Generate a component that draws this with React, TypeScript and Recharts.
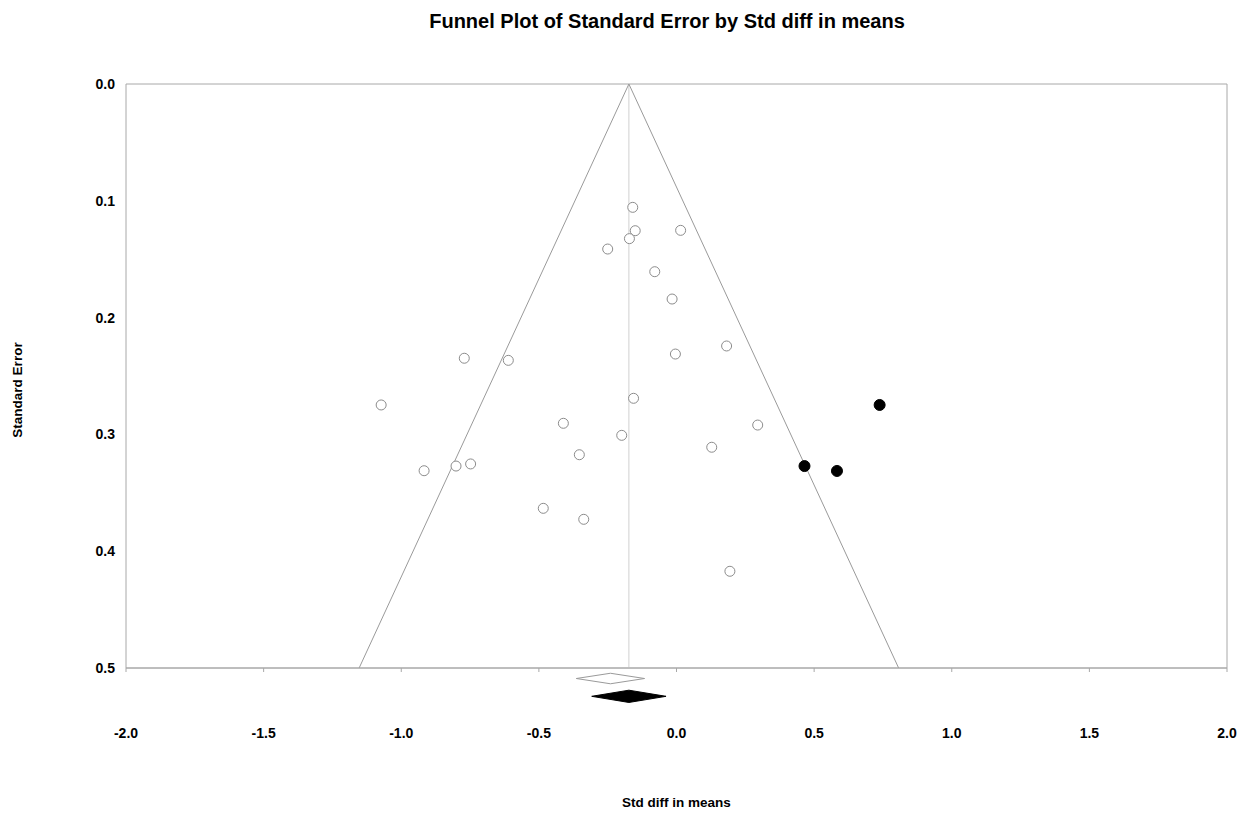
import React from 'react';
import { ScatterChart, Scatter, XAxis, YAxis, ReferenceLine, ReferenceArea, Label } from 'recharts';

// Studies (open circles)
const studyEffect = [
  -0.159, -0.150, 0.015, -0.171, -0.250, -0.079, -0.016, 0.182, -0.004, -0.771,
  -0.611, -1.073, -0.156, -0.411, 0.295, -0.199, 0.128, -0.353, -0.801, -0.748,
  -0.917, -0.484, -0.337, 0.194,
];
const studySE = [
  0.1056, 0.1256, 0.1253, 0.1324, 0.1413, 0.1607, 0.1841, 0.2243, 0.2312, 0.2348,
  0.2366, 0.2748, 0.2691, 0.2905, 0.2920, 0.3008, 0.3110, 0.3174, 0.3271, 0.3253,
  0.3311, 0.3633, 0.3727, 0.4172,
];

// Imputed studies (filled circles)
const imputedEffect = [0.738, 0.465, 0.583];
const imputedSE = [0.2748, 0.3271, 0.3313];

// Pooled estimates (diamonds)
const pooledEffect = -0.173;
const observedDiamond = { lo: -0.364, hi: -0.116, top: 0.5045, bottom: 0.5135 };
const adjustedDiamond = { lo: -0.308, hi: -0.038, top: 0.519, bottom: 0.5295 };

const xTicks = [-2.0, -1.5, -1.0, -0.5, 0.0, 0.5, 1.0, 1.5, 2.0];
const yTicks = [0.0, 0.1, 0.2, 0.3, 0.4, 0.5];

const studies = studyEffect.map((x, i) => ({ x, y: studySE[i] }));
const imputed = imputedEffect.map((x, i) => ({ x, y: imputedSE[i] }));

const FONT = '"Liberation Sans", Arial, sans-serif';

const openCircle = (p: any) => (
  <circle cx={p.cx} cy={p.cy} r={5} fill="#ffffff" stroke="#8c8c8c" strokeWidth={1} />
);
const filledCircle = (p: any) => (
  <circle cx={p.cx} cy={p.cy} r={5.5} fill="#000000" stroke="#000000" strokeWidth={1} />
);

const diamond = (fill: string, stroke: string) => (p: any) => {
  const x = Math.min(p.x, p.x + p.width);
  const y = Math.min(p.y, p.y + p.height);
  const w = Math.abs(p.width);
  const h = Math.abs(p.height);
  const pts = `${x},${y + h / 2} ${x + w / 2},${y} ${x + w},${y + h / 2} ${x + w / 2},${y + h}`;
  return <polygon points={pts} fill={fill} stroke={stroke} strokeWidth={1} />;
};

export default function App() {
  return (
    <div style={{ position: 'relative', width: 1240, height: 810, fontFamily: FONT }}>
      <div
        style={{
          position: 'absolute', top: 2, left: 39, width: 1240, textAlign: 'center',
          fontWeight: 'bold', fontSize: 20, color: '#000', whiteSpace: 'nowrap',
        }}
      >
        Funnel Plot of Standard Error by Std diff in means
      </div>
      <ScatterChart width={1240} height={810} margin={{ top: 76, right: 21, left: 0, bottom: 65 }}>
        <XAxis
          type="number"
          dataKey="x"
          domain={[-2, 2]}
          ticks={xTicks}
          tickFormatter={(v: number) => v.toFixed(1)}
          tick={{ fill: '#000', fontSize: 14, fontWeight: 'bold', fontFamily: FONT }}
          tickSize={4}
          tickMargin={56}
          stroke="#a8a8a8"
          height={85}
        >
          <Label
            content={(props: any) => {
              const vb = props.viewBox;
              return (
                <text x={vb.x + vb.width / 2} y={vb.y + 139} textAnchor="middle"
                  fontSize={13.5} fontWeight="bold" fontFamily={FONT} fill="#000">
                  Std diff in means
                </text>
              );
            }}
          />
        </XAxis>
        <YAxis
          type="number"
          dataKey="y"
          domain={[0, 0.5]}
          reversed
          ticks={yTicks}
          tickFormatter={(v: number) => v.toFixed(1)}
          tick={{ fill: '#000', fontSize: 14, fontWeight: 'bold', fontFamily: FONT }}
          tickLine={false}
          axisLine={false}
          tickSize={0}
          tickMargin={11}
          width={118}
        >
          <Label
            content={(props: any) => {
              const vb = props.viewBox;
              const cx = 14;
              const cy = vb.y + vb.height / 2 + 14;
              return (
                <text x={cx} y={cy} textAnchor="middle" transform={`rotate(-90 ${cx} ${cy})`}
                  fontSize={13.5} fontWeight="bold" fontFamily={FONT} fill="#000">
                  Standard Error
                </text>
              );
            }}
          />
        </YAxis>

        {/* plot frame */}
        <ReferenceArea x1={-2} x2={2} y1={0} y2={0.5} fill="none" stroke="#a8a8a8" strokeWidth={1} />

        {/* pooled estimate line */}
        <ReferenceLine x={pooledEffect} stroke="#d0d0d0" strokeWidth={1} />

        {/* 95% pseudo-confidence funnel */}
        <ReferenceLine
          segment={[{ x: pooledEffect, y: 0 }, { x: pooledEffect - 1.96 * 0.5, y: 0.5 }]}
          stroke="#9a9a9a" strokeWidth={1}
        />
        <ReferenceLine
          segment={[{ x: pooledEffect, y: 0 }, { x: pooledEffect + 1.96 * 0.5, y: 0.5 }]}
          stroke="#9a9a9a" strokeWidth={1}
        />

        <Scatter data={studies} shape={openCircle} isAnimationActive={false} />
        <Scatter data={imputed} shape={filledCircle} isAnimationActive={false} />

        {/* diamonds below the axis */}
        <ReferenceArea
          x1={observedDiamond.lo} x2={observedDiamond.hi}
          y1={observedDiamond.top} y2={observedDiamond.bottom}
          ifOverflow="visible"
          shape={diamond('#ffffff', '#9a9a9a')}
        />
        <ReferenceArea
          x1={adjustedDiamond.lo} x2={adjustedDiamond.hi}
          y1={adjustedDiamond.top} y2={adjustedDiamond.bottom}
          ifOverflow="visible"
          shape={diamond('#000000', '#000000')}
        />
      </ScatterChart>
    </div>
  );
}
